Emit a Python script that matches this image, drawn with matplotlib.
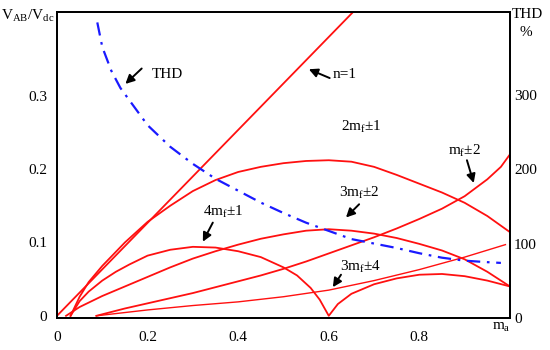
import matplotlib
matplotlib.use("Agg")
import matplotlib.pyplot as plt

plt.rcParams['font.family'] = ['Liberation Serif', 'DejaVu Serif']
plt.rcParams['mathtext.fontset'] = 'custom'
plt.rcParams['mathtext.rm'] = 'Liberation Serif'
plt.rcParams['mathtext.it'] = 'Liberation Serif:italic'

# values (ma on x, VAB/Vdc on left axis, THD % on right axis)
n1_x = [0.0, 0.66]
n1_y = [0.0, 0.418]

h2_x = [0.03, 0.05, 0.07, 0.10, 0.15, 0.20, 0.25, 0.30, 0.35, 0.40, 0.45, 0.50,
        0.55, 0.60, 0.65, 0.70, 0.75, 0.80, 0.85, 0.90, 0.95, 1.00]
h2_y = [0.0, 0.026, 0.046, 0.068, 0.100, 0.128, 0.150, 0.170, 0.185, 0.196, 0.203, 0.208,
        0.211, 0.212, 0.210, 0.203, 0.192, 0.180, 0.168, 0.154, 0.136, 0.114]

h32_x = [0.02, 0.05, 0.10, 0.15, 0.20, 0.25, 0.30, 0.35, 0.40, 0.45, 0.50, 0.55,
         0.60, 0.65, 0.70, 0.75, 0.80, 0.85, 0.90, 0.95, 1.00]
h32_y = [0.0, 0.012, 0.027, 0.040, 0.053, 0.066, 0.078, 0.088, 0.097, 0.105, 0.111, 0.116,
         0.118, 0.116, 0.112, 0.106, 0.098, 0.089, 0.077, 0.060, 0.040]

h41_x = [0.03, 0.05, 0.07, 0.10, 0.13, 0.16, 0.20, 0.25, 0.30, 0.35, 0.40, 0.45, 0.50,
         0.53, 0.56, 0.58, 0.60, 0.62, 0.65, 0.70, 0.75, 0.80, 0.85, 0.90, 0.95, 1.00]
h41_y = [0.0, 0.020, 0.033, 0.048, 0.060, 0.070, 0.082, 0.090, 0.094, 0.093, 0.088, 0.080, 0.066,
         0.055, 0.038, 0.022, 0.0, 0.016, 0.030, 0.043, 0.051, 0.056, 0.057, 0.054, 0.048, 0.040]

mf2_x = [0.087, 0.15, 0.20, 0.25, 0.30, 0.35, 0.40, 0.45, 0.50, 0.55, 0.60, 0.65,
         0.70, 0.75, 0.80, 0.85, 0.90, 0.95, 0.98, 1.00]
mf2_y = [0.0, 0.010, 0.017, 0.024, 0.031, 0.039, 0.047, 0.055, 0.064, 0.074, 0.085, 0.096,
         0.107, 0.119, 0.132, 0.146, 0.163, 0.186, 0.203, 0.220]

h34_x = [0.087, 0.20, 0.30, 0.40, 0.50, 0.60, 0.70, 0.80, 0.90, 0.99]
h34_y = [0.0, 0.008, 0.014, 0.019, 0.026, 0.035, 0.048, 0.063, 0.080, 0.097]

thd_x = [0.089, 0.10, 0.12, 0.14, 0.17, 0.20, 0.25, 0.30, 0.35, 0.40, 0.45, 0.50,
         0.55, 0.60, 0.65, 0.70, 0.75, 0.80, 0.85, 0.90, 0.95, 0.98]
thd_y = [397, 364, 332, 309, 284, 259, 230, 207, 187, 171, 155, 141,
         128, 117, 106, 100, 94, 87, 81, 77, 75, 74]

x_ticks = [0, 0.2, 0.4, 0.6, 0.8]
x_labels = ['0', '0.2', '0.4', '0.6', '0.8']
left_ticks = [0, 0.1, 0.2, 0.3]
right_ticks = [0, 100, 200, 300]

red = '#ff1010'

fig = plt.figure(figsize=(5.5, 3.5), dpi=100)
ax = fig.add_axes([0.1036, 0.0914, 0.8236, 0.8743])
ax2 = ax.twinx()

ax.plot(n1_x, n1_y, color=red, lw=1.3)
ax.plot(h2_x, h2_y, color=red, lw=1.3)
ax.plot(h32_x, h32_y, color=red, lw=1.3)
ax.plot(h41_x, h41_y, color=red, lw=1.3)
ax.plot(mf2_x, mf2_y, color=red, lw=1.3)
ax.plot(h34_x, h34_y, color=red, lw=1.0)
ax2.plot(thd_x, thd_y, color='#1a1aff', lw=1.6, linestyle=(0, (6, 3, 1.2, 3)))

ax.set_xlim(0, 1.0)
ax.set_ylim(-0.003, 0.414)
ax2.set_ylim(0, 411)

ax.set_xticks(x_ticks)
ax.set_xticklabels(x_labels)
ax.set_yticks(left_ticks)
ax.set_yticklabels(['0', '0.1', '0.2', '0.3'])
ax2.set_yticks(right_ticks)
ax.tick_params(axis='both', length=0, labelsize=11)
ax.tick_params(axis='x', pad=9)
ax.tick_params(axis='y', pad=7)
ax2.tick_params(axis='y', length=0, labelsize=11, pad=3)
for sp in ax.spines.values():
    sp.set_linewidth(1.3)
for sp in ax2.spines.values():
    sp.set_linewidth(1.3)

arrow = dict(arrowstyle='-|>', color='black', lw=1.4, mutation_scale=13, shrinkA=0, shrinkB=0)
fs = 11

ax.text(0.244, 0.329, 'THD', fontsize=fs, ha='center', va='center')
ax.annotate('', xy=(0.151, 0.316), xytext=(0.187, 0.337), arrowprops=arrow)

ax.text(0.636, 0.329, 'n=1', fontsize=fs, ha='center', va='center')
ax.annotate('', xy=(0.556, 0.336), xytext=(0.602, 0.324), arrowprops=arrow)

ax.text(0.671, 0.258, r'2m$_\mathrm{f}$±1', fontsize=fs, ha='center', va='center')

ax.text(0.9, 0.224, r'm$_\mathrm{f}$±2', fontsize=fs, ha='center', va='center')
ax.annotate('', xy=(0.92, 0.181), xytext=(0.905, 0.212), arrowprops=arrow)

ax.text(0.667, 0.168, r'3m$_\mathrm{f}$±2', fontsize=fs, ha='center', va='center')
ax.annotate('', xy=(0.638, 0.134), xytext=(0.667, 0.152), arrowprops=arrow)

ax.text(0.367, 0.142, r'4m$_\mathrm{f}$±1', fontsize=fs, ha='center', va='center')
ax.annotate('', xy=(0.322, 0.101), xytext=(0.344, 0.127), arrowprops=arrow)

ax.text(0.671, 0.066, r'3m$_\mathrm{f}$±4', fontsize=fs, ha='center', va='center')
ax.annotate('', xy=(0.609, 0.039), xytext=(0.627, 0.056), arrowprops=arrow)

ax.text(0.98, -0.016, r'm$_\mathrm{a}$', fontsize=fs, ha='center', va='center')

fig.text(28 / 550, 1 - 16 / 350, r'V$_\mathrm{AB}$/V$_\mathrm{dc}$', fontsize=fs, ha='center', va='center')
fig.text(527 / 550, 1 - 14 / 350, 'THD', fontsize=fs, ha='center', va='center')
fig.text(526 / 550, 1 - 32 / 350, '%', fontsize=fs, ha='center', va='center')

fig.savefig('out.png', dpi=100)
